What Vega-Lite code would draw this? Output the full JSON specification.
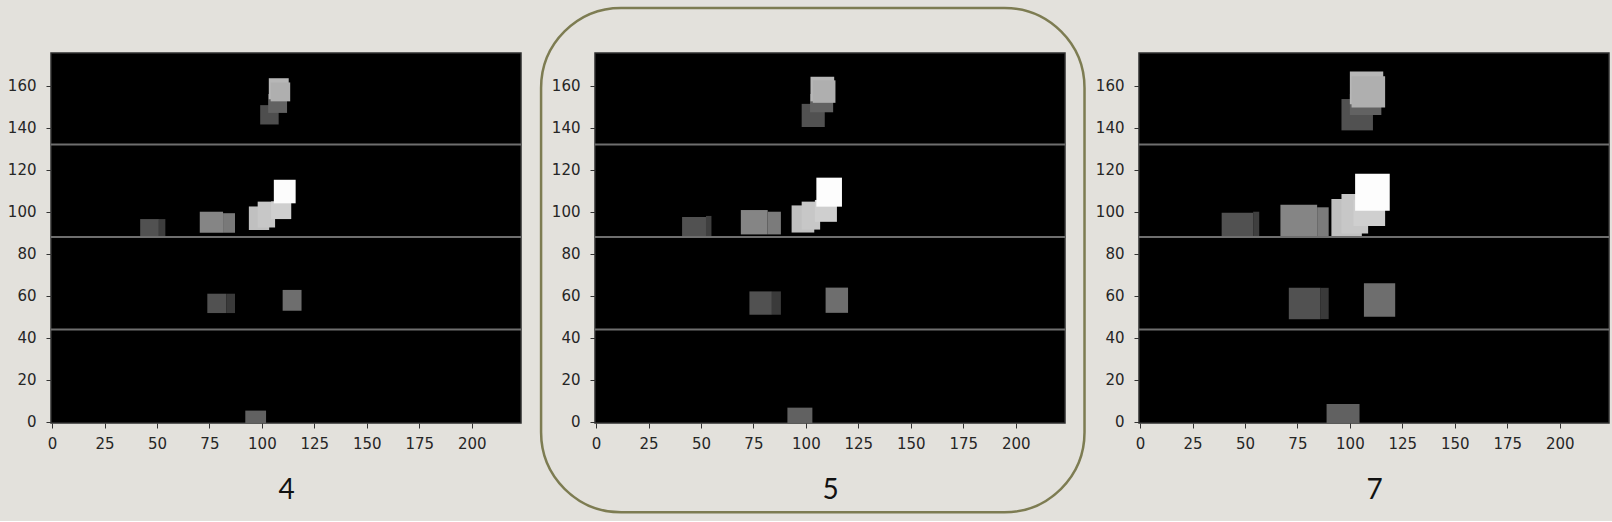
{
  "$schema": "https://vega.github.io/schema/vega-lite/v6.json",
  "background": "#e3e1dc",
  "padding": {"left": 6, "top": 6, "right": 2, "bottom": 6},
  "config": {
    "view": {"fill": "#000000", "stroke": "#2e2e2e", "strokeWidth": 1.5},
    "axis": {
      "labelFont": "DejaVu Sans", "labelFontSize": 15, "labelColor": "#262626",
      "tickColor": "#333333", "tickSize": 5, "tickWidth": 1, "domain": false, "grid": false,
      "titleFont": "Lato", "titleFontSize": 28, "titleFontWeight": "normal", "titleColor": "#111111"
    },
    "axisX": {"labelPadding": 8, "labelFlush": false, "titlePadding": 25},
    "axisY": {"labelPadding": 10, "title": null}
  },
  "datasets": {
    "p4": [
      {"x": 99.2, "x2": 108, "y": 141.5, "y2": 150.7, "v": 85},
      {"x": 103, "x2": 112, "y": 147, "y2": 156, "v": 106},
      {"x": 103.3, "x2": 112.8, "y": 153.5, "y2": 163.5, "v": 190},
      {"x": 104.2, "x2": 113.5, "y": 152.5, "y2": 161.5, "v": 182},
      {"x": 42, "x2": 51, "y": 88, "y2": 96.5, "v": 88},
      {"x": 50.7, "x2": 54, "y": 88, "y2": 96.5, "v": 66},
      {"x": 70.4, "x2": 81.5, "y": 90, "y2": 100, "v": 142},
      {"x": 81.5, "x2": 87.2, "y": 90, "y2": 99.3, "v": 130},
      {"x": 93.8, "x2": 103.5, "y": 91.3, "y2": 102.5, "v": 198},
      {"x": 98, "x2": 106.3, "y": 92.5, "y2": 104.8, "v": 205},
      {"x": 104.4, "x2": 114, "y": 96.5, "y2": 104.9, "v": 212},
      {"x": 105.7, "x2": 116.1, "y": 104, "y2": 115.2, "v": 252},
      {"x": 74, "x2": 83, "y": 51.8, "y2": 61, "v": 88},
      {"x": 83, "x2": 87.2, "y": 51.8, "y2": 61, "v": 62},
      {"x": 109.9, "x2": 118.9, "y": 52.9, "y2": 62.8, "v": 118},
      {"x": 92.1, "x2": 102, "y": -0.5, "y2": 5.4, "v": 105}
    ],
    "p5": [
      {"x": 98, "x2": 109, "y": 140.3, "y2": 151.3, "v": 88},
      {"x": 102, "x2": 113, "y": 147.3, "y2": 156, "v": 106},
      {"x": 102.2, "x2": 113.5, "y": 152.5, "y2": 164.2, "v": 190},
      {"x": 103.3, "x2": 114.1, "y": 151.8, "y2": 162.5, "v": 182},
      {"x": 41, "x2": 52.4, "y": 87.7, "y2": 97.5, "v": 88},
      {"x": 52.4, "x2": 55, "y": 87.7, "y2": 98, "v": 68},
      {"x": 69, "x2": 81.8, "y": 89.2, "y2": 100.8, "v": 142},
      {"x": 81.8, "x2": 88.1, "y": 89.2, "y2": 100, "v": 132},
      {"x": 93.2, "x2": 104, "y": 90.1, "y2": 103, "v": 198},
      {"x": 98, "x2": 106.8, "y": 91.5, "y2": 104.8, "v": 205},
      {"x": 104.3, "x2": 114.8, "y": 95.2, "y2": 105.6, "v": 212},
      {"x": 105, "x2": 117.2, "y": 102.4, "y2": 116.2, "v": 253},
      {"x": 73.1, "x2": 83.8, "y": 51, "y2": 62.1, "v": 88},
      {"x": 83.8, "x2": 88.1, "y": 51, "y2": 62.1, "v": 62},
      {"x": 109.4, "x2": 120.1, "y": 51.9, "y2": 63.9, "v": 118},
      {"x": 91.2, "x2": 103.1, "y": -0.5, "y2": 6.8, "v": 105}
    ],
    "p7": [
      {"x": 96, "x2": 111, "y": 138.7, "y2": 153.6, "v": 88},
      {"x": 100, "x2": 115, "y": 146, "y2": 156, "v": 106},
      {"x": 100, "x2": 115.9, "y": 151.1, "y2": 166.7, "v": 190},
      {"x": 100.8, "x2": 116.8, "y": 149.6, "y2": 164.5, "v": 182},
      {"x": 38.9, "x2": 53.9, "y": 87.8, "y2": 99.5, "v": 88},
      {"x": 53.9, "x2": 56.8, "y": 87.8, "y2": 100, "v": 68},
      {"x": 66.9, "x2": 84.4, "y": 87.8, "y2": 103.3, "v": 142},
      {"x": 84.4, "x2": 89.9, "y": 87.8, "y2": 102.1, "v": 132},
      {"x": 91.2, "x2": 105.7, "y": 88, "y2": 106, "v": 198},
      {"x": 96, "x2": 108.7, "y": 89.7, "y2": 108.4, "v": 205},
      {"x": 101.7, "x2": 116.8, "y": 93.2, "y2": 105.7, "v": 212},
      {"x": 102.5, "x2": 119, "y": 100.5, "y2": 118.1, "v": 253},
      {"x": 70.9, "x2": 86, "y": 48.9, "y2": 63.8, "v": 88},
      {"x": 86, "x2": 89.9, "y": 48.9, "y2": 63.8, "v": 62},
      {"x": 106.7, "x2": 121.6, "y": 50, "y2": 66, "v": 118},
      {"x": 88.9, "x2": 104.6, "y": -0.5, "y2": 8.5, "v": 105}
    ],
    "dividers": [{"y": 44}, {"y": 88}, {"y": 132}]
  },
  "hconcat": [
    {
      "width": 470, "height": 370,
      "layer": [
        {
          "data": {"name": "p4"},
          "mark": {"type": "rect"},
          "encoding": {
            "x": {"field": "x", "type": "quantitative", "scale": {"domain": [-0.5, 223.5], "nice": false, "zero": false}, "axis": {"title": "4", "values": [0, 25, 50, 75, 100, 125, 150, 175, 200]}},
            "x2": {"field": "x2"},
            "y": {"field": "y", "type": "quantitative", "scale": {"domain": [-0.5, 175.5], "nice": false, "zero": false}, "axis": {"values": [0, 20, 40, 60, 80, 100, 120, 140, 160]}},
            "y2": {"field": "y2"},
            "color": {"field": "v", "type": "quantitative", "scale": {"domain": [0, 255], "range": ["#000000", "#ffffff"]}, "legend": null}
          }
        },
        {
          "data": {"name": "dividers"},
          "mark": {"type": "rule", "color": "#6e6e6e", "strokeWidth": 2},
          "encoding": {"y": {"field": "y", "type": "quantitative"}}
        }
      ]
    },
    {
      "width": 470, "height": 370,
      "layer": [
        {
          "data": {"name": "p5"},
          "mark": {"type": "rect"},
          "encoding": {
            "x": {"field": "x", "type": "quantitative", "scale": {"domain": [-0.5, 223.5], "nice": false, "zero": false}, "axis": {"title": "5", "values": [0, 25, 50, 75, 100, 125, 150, 175, 200]}},
            "x2": {"field": "x2"},
            "y": {"field": "y", "type": "quantitative", "scale": {"domain": [-0.5, 175.5], "nice": false, "zero": false}, "axis": {"values": [0, 20, 40, 60, 80, 100, 120, 140, 160]}},
            "y2": {"field": "y2"},
            "color": {"field": "v", "type": "quantitative", "scale": {"domain": [0, 255], "range": ["#000000", "#ffffff"]}, "legend": null}
          }
        },
        {
          "data": {"name": "dividers"},
          "mark": {"type": "rule", "color": "#6e6e6e", "strokeWidth": 2},
          "encoding": {"y": {"field": "y", "type": "quantitative"}}
        },
        {
          "data": {"values": [{}]},
          "mark": {"type": "rect", "fill": null, "fillOpacity": 0, "stroke": "#7d7c52", "strokeWidth": 2.5, "cornerRadius": 80, "clip": false},
          "encoding": {
            "x": {"datum": -26.2, "type": "quantitative"},
            "x2": {"datum": 232.8},
            "y": {"datum": -43, "type": "quantitative"},
            "y2": {"datum": 196.9}
          }
        }
      ]
    },
    {
      "width": 470, "height": 370,
      "layer": [
        {
          "data": {"name": "p7"},
          "mark": {"type": "rect"},
          "encoding": {
            "x": {"field": "x", "type": "quantitative", "scale": {"domain": [-0.5, 223.5], "nice": false, "zero": false}, "axis": {"title": "7", "values": [0, 25, 50, 75, 100, 125, 150, 175, 200]}},
            "x2": {"field": "x2"},
            "y": {"field": "y", "type": "quantitative", "scale": {"domain": [-0.5, 175.5], "nice": false, "zero": false}, "axis": {"values": [0, 20, 40, 60, 80, 100, 120, 140, 160]}},
            "y2": {"field": "y2"},
            "color": {"field": "v", "type": "quantitative", "scale": {"domain": [0, 255], "range": ["#000000", "#ffffff"]}, "legend": null}
          }
        },
        {
          "data": {"name": "dividers"},
          "mark": {"type": "rule", "color": "#6e6e6e", "strokeWidth": 2},
          "encoding": {"y": {"field": "y", "type": "quantitative"}}
        }
      ]
    }
  ],
  "spacing": 74,
  "bounds": "flush"
}
